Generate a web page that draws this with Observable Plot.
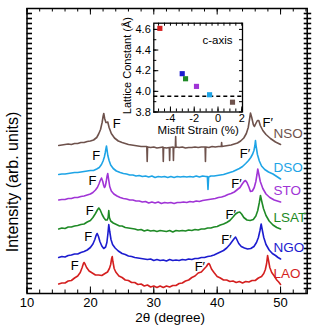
<!DOCTYPE html>
<html><head><meta charset="utf-8">
<script src="https://cdn.jsdelivr.net/npm/d3@7"></script>
<script src="https://cdn.jsdelivr.net/npm/@observablehq/plot@0.6"></script>
<style>
body{margin:0;background:#fff;}
#wrap{position:relative;width:312px;height:330px;overflow:hidden;background:#fff;}
#wrap svg{position:absolute;left:0;top:0;}
</style></head><body><div id="wrap"></div>
<script>
const FONT = "'Liberation Sans', Arial, Helvetica, sans-serif";

// samples (substrates), bottom to top
const substrates = ["LAO","NGO","LSAT","STO","DSO","NSO"];
const colors = ["#d41f1f","#1c1ccf","#1f8a26","#a034d6","#1ea4e6","#6e524c"];
const offsets = [0,26,55,83,109,138];   // vertical stacking of the scans (arb. units)

// XRD scans: 2θ (degree) and intensity (arb. units)
const ttLAO = [15,15.5,16,16.5,17,17.5,18,18.4,18.7,18.9,19.0,19.15,19.4,19.8,20.3,20.8,21.3,21.8,22.3,22.7,23.0,23.2,23.35,23.45,23.55,23.75,24.0,24.5,25,25.5,26,26.5,27,27.5,28,28.5,29,29.5,30,30.5,31,31.5,32,32.5,33,33.5,34,34.5,35,35.5,36,36.5,37,37.5,38,38.3,38.55,38.7,38.85,39.1,39.5,40,40.5,41,41.5,42,42.5,43,43.5,44,44.5,45,45.5,46,46.5,47,47.35,47.6,47.8,47.95,48.1,48.3,48.6,49,49.4,49.7,50];
const iLAO = [9.5,10.5,10.5,12.5,13,15.5,17.5,21,26,30,31,29.5,26,22.5,20.5,18.5,18.5,18,20,21.5,25,29,35,37,32,25,21.5,17.5,16,13.5,13,11,11,9,9.5,7.5,8.5,6.5,7.5,6,7.5,6,7.5,6.5,8,8,10,10.5,12.5,13.5,16,17.5,20.5,21.5,25,27,29.5,30,28.5,24.5,21,17,15.5,13.5,13.5,12,12.5,11,12,10.5,12,11.5,13,13,15.5,17,20,24,30,38,33,26,21,17.5,13.5,11.5,9];

const ttNGO = [15,15.5,16,16.5,17,17.5,18,18.5,19,19.5,20,20.4,20.7,20.9,21.07,21.25,21.5,21.8,22.1,22.4,22.6,22.75,22.9,23.05,23.25,23.5,23.9,24.4,25,25.5,26,26.5,27,27.5,28,28.5,29,29.5,30,30.5,31,31.5,32,32.5,33,33.5,34,34.5,35,35.5,36,36.5,37,37.5,38,38.5,39,39.5,40,40.5,41,41.5,42,42.4,42.7,42.9,43.1,43.4,43.8,44.3,44.8,45.3,45.8,46.2,46.5,46.75,46.94,47.1,47.35,47.7,48.2,48.7,49.2,49.6,50];
const iNGO = [10,11,10.5,12,12.5,13.5,13.5,15,16,17.5,20,23.5,28,32,34,31.5,26,21.5,19,20.5,25,33,43,36,28,23,19.5,16.5,14,13,11.5,11,10,9.5,9,8.5,8,8.5,7,8,7,7.5,6.5,8,7,7.5,7,8,7.5,8.5,8,9,9,10,10,11,11.5,12.5,14,15.5,17,19.5,23,26.5,29,30.5,28,24,21,19.5,18.5,19,21,25,30,37,43.5,38,30,23,17.5,14,12,10,8.5];

const ttLSAT = [15,15.5,16,16.5,17,17.5,18,18.5,19,19.5,20,20.4,20.8,21.1,21.32,21.55,21.85,22.15,22.4,22.65,22.8,22.9,23.0,23.2,23.6,24.1,24.6,25,25.5,26,26.5,27,27.5,28,28.5,29,29.5,30,30.5,31,31.5,32,32.5,33,33.5,34,34.5,35,35.5,36,36.5,37,37.5,38,38.5,39,39.5,40,40.5,41,41.5,42,42.5,42.9,43.25,43.56,43.85,44.2,44.7,45.2,45.7,46.1,46.4,46.65,46.83,47.0,47.3,47.7,48.2,48.8,49.4,50];
const iLSAT = [9.5,10.5,10,11.5,11.5,12.5,13,14,14.5,16.5,18,21,25,28.5,30.5,28.5,24,20.5,18.5,18.5,21,28,21,17.5,15.5,14,12.5,12.5,11,10.5,10,9.5,8.5,9,7.5,8.5,7.5,8,7,8,7.5,7,8,6.5,8,7.5,8,7.5,8.5,8,9,8.5,9.5,9.5,10.5,10.5,11.5,12,13.5,14.5,16,18,21.5,24.5,26,26.5,24.5,21,18.5,18,19,22.5,28,36,43,38,30,23,17.5,13.5,11,9.5];

const ttSTO = [15,15.5,16,16.5,17,17.5,18,18.5,19,19.5,20,20.4,20.8,21.1,21.35,21.55,21.75,21.95,22.1,22.22,22.35,22.5,22.62,22.74,22.88,23.05,23.3,23.7,24.2,24.7,25.2,25.7,26.2,26.7,27.2,27.7,28.2,28.7,29.2,29.7,30.2,30.7,31.2,31.7,32.2,32.7,33.2,33.7,34.2,34.7,35.2,35.7,36.2,36.7,37.2,37.7,38.2,38.7,39.2,39.7,40.2,40.7,41.2,41.7,42.2,42.7,43.2,43.6,43.95,44.25,44.46,44.7,45.0,45.25,45.55,45.85,46.1,46.28,46.4,46.55,46.8,47.2,47.7,48.3,49,49.5,50];
const iSTO = [10.5,11,11,12,12,13,13,14,14.5,15.5,16.5,18,20.5,23,26.5,30,32.5,29,25,23,24.5,29,34,37,31,24,19.5,16.5,14.5,13,12,11.5,10.5,10.5,9.5,9.5,8.5,9,7.5,8.5,7.5,8.5,7,8,7.5,8,7,8,8,8.5,8,9,8.5,9.5,9,10,10.5,11,11.5,12,13,13.5,14.5,16,17,18.5,21,23,26.5,29,30,28,23.5,19,19.5,23,29,36,41.5,37,29,22,16.5,13,10.5,9.5,8.5];

const ttDSO = [15,15.5,16,16.5,17,17.5,18,18.5,19,19.5,20,20.5,21,21.4,21.75,22.0,22.2,22.35,22.46,22.54,22.62,22.75,22.95,23.2,23.6,24.1,24.7,25.2,25.7,26.2,26.7,27.2,27.7,28.2,28.7,29.2,29.7,30.2,30.7,31.2,31.7,32.2,32.7,33.2,33.7,34.2,34.7,35.2,35.7,36.2,36.7,37.2,37.7,38.2,38.45,38.55,38.65,39,39.5,40,40.5,41,41.5,42,42.5,43,43.5,44,44.5,44.95,45.3,45.6,45.8,45.95,46.04,46.15,46.35,46.65,47.0,47.5,48.1,48.8,49.4,50];
const iDSO = [10,10.5,10.5,11,11.5,12,12,12.5,13,13.5,14,14,15.5,17,20,23.5,27.5,32,36,38.5,35,29,24,19.5,16,13.5,12,11,10.5,9.5,9.5,8.5,9,8,8.5,7.5,8.5,7,8,7.5,8,7,8,7,8,7.5,8,7.5,8,7.5,8.5,7.5,8.5,8,8,-5,7.5,8.5,8.5,9,9.5,10,11,12,13,14.5,16,18,21,24,27,30.5,34,39,44,38,30,23.5,18.5,15,12.5,10.5,8,5.5];

const ttNSO = [15,15.5,16,16.5,17,17.5,18,18.5,19,19.5,20,20.5,21,21.3,21.6,21.85,22.0,22.11,22.25,22.45,22.6,22.74,22.95,23.3,23.8,24.4,25,25.5,26,26.5,27,27.5,28,28.5,28.9,28.96,29.02,29.5,30,30.5,31,31.45,31.5,31.55,32,32.45,32.5,32.55,33.05,33.1,33.15,33.4,33.45,33.5,34,34.5,35,35.5,36,36.5,37,37.5,38.1,38.15,38.2,38.7,39.2,39.7,40.2,40.65,40.7,40.75,41.2,41.7,42.2,42.7,43.2,43.7,44.2,44.6,44.9,45.1,45.25,45.45,45.7,45.88,46.1,46.35,46.56,46.8,47.2,47.7,48.4,49.2,50];
const iNSO = [10,10.5,11,11.5,11,12,12,13,13,14,14.5,15.5,18,21.5,26,33,39,42,37,33,33,33.5,28,22,17.5,14.5,13,12,11,10.5,10,9.5,9,9,9,-6,8.5,8,8.5,7.5,8,8.5,-6,8,7.5,8,-5,8,8.5,-5,8,8,19,8.5,8,8.5,7.5,8,8,8.5,8,8.5,8.5,-6,8.5,8,9,8.5,9,9,13,9,9.5,10,10.5,11.5,12.5,14.5,17.5,22,28,36,42.5,38,31,29,32,35,35,30,25,21,17,13.5,11];

// film peak positions (2θ) marked F and F′
const filmF  = [18.96, 21.07, 21.32, 21.75, 22.35, 22.74];
const filmF2 = [38.68, 42.89, 43.56, 44.46, 45.8, 46.56];

// inset: c-axis lattice constant vs misfit strain
const misfit   = [-4.89, -3.01, -2.73, -1.81, -0.71, 1.22];
const latticeC = [4.61, 4.171, 4.122, 4.048, 3.967, 3.895];
const bulkC = 3.953;

const xTicks = [10,20,30,40,50];
const insetXTicks = [-4,-2,0,2];
const insetYTicks = [3.8,4.0,4.2,4.4,4.6];

// ---- build tables
const scans = [[ttLAO,iLAO],[ttNGO,iNGO],[ttLSAT,iLSAT],[ttSTO,iSTO],[ttDSO,iDSO],[ttNSO,iNSO]];
const rows = substrates.flatMap((s,i)=> scans[i][0].map((t,j)=>({sample:s, tt:t, I:scans[i][1][j]+offsets[i]})));
const valueAt = (i,t) => { const k = d3.minIndex(scans[i][0], v=>Math.abs(v-t)); return scans[i][1][k]+offsets[i]; };
const ends = substrates.map((s,i)=>{ const tt=scans[i][0], I=scans[i][1]; return {sample:s, tt:tt[tt.length-1], I:I[I.length-1]+offsets[i]}; });
const fLab = substrates.flatMap((s,i)=>[
  {sample:s, tt:filmF[i], I:valueAt(i,filmF[i]), text:"F"},
  {sample:s, tt:filmF2[i], I:valueAt(i,filmF2[i]), text:"F\u2032"}]);
const pts = substrates.map((s,i)=>({sample:s, m:misfit[i], c:latticeC[i]}));

const XMIN=10, XMAX=54.2, YMIN=0, YMAX=285;
const pxX = 280.2/(XMAX-XMIN);
const xMinor = d3.range(10, 54.3, 2);
const yMinor = d3.range(5, 285, 5);

const main = Plot.plot({
  width:312, height:330,
  marginLeft:26.5, marginRight:5.3, marginTop:8, marginBottom:37,
  x:{domain:[XMIN,XMAX], ticks:xTicks, tickSize:0, tickPadding:4, label:null},
  y:{domain:[YMIN,YMAX], axis:null},
  color:{domain:substrates, range:colors},
  style:{fontFamily:FONT, fontSize:"13px", background:"transparent", color:"black", overflow:"visible"},
  marks:[
    Plot.ruleX(xMinor, {y1:YMIN, y2:YMIN+3.5, stroke:"black"}),
    Plot.ruleX(xTicks, {y1:YMIN, y2:YMIN+6.5, stroke:"black"}),
    Plot.ruleX(xMinor, {y1:YMAX, y2:YMAX-3.5, stroke:"black"}),
    Plot.ruleX(xTicks, {y1:YMAX, y2:YMAX-6.5, stroke:"black"}),
    Plot.ruleY(yMinor, {x1:XMIN, x2:XMIN+5.5/pxX, stroke:"black", strokeWidth:1.6}),
    Plot.ruleY(yMinor, {x1:XMAX-3/pxX, x2:XMAX+4.5/pxX, stroke:"black", strokeWidth:1.6}),
    Plot.line(rows, {x:"tt", y:"I", z:"sample", stroke:"sample", strokeWidth:1.6, strokeLinejoin:"round"}),
    Plot.frame({stroke:"black", strokeWidth:1.5}),
    Plot.text(ends, {x:"tt", y:"I", text:"sample", fill:"sample", textAnchor:"start", dx:-7, dy:-11, fontSize:13.5}),
    Plot.text(fLab.filter(d=>d.sample!=="NSO"), {x:"tt", y:"I", text:"text", fill:"black", dx:-9, dy:3, fontSize:13}),
    Plot.text(fLab.filter(d=>d.sample==="NSO"), {x:"tt", y:"I", text:"text", fill:"black", dx:9, dy:2, fontSize:13}),
    Plot.text(["2\u03b8 (degree)"], {frameAnchor:"bottom", textAnchor:"middle", dx:3, dy:28.5, fontSize:13.5, fill:"black"}),
    Plot.text(["Intensity (arb. units)"], {x:()=>XMIN, y:()=>(YMIN+YMAX)/2, dx:-14.5, dy:31, rotate:-90, textAnchor:"middle", fontSize:16, fill:"black"})
  ]
});

const IXMIN=-5.4, IXMAX=2.06, IYMIN=3.8, IYMAX=4.66;
const ipx = 88.7/(IXMAX-IXMIN), ipy = 88.8/(IYMAX-IYMIN);
const ixMinor = d3.range(-5, 2.01, 0.5);
const iyMinor = d3.range(0, 9).map(k => 3.8 + k*0.1);

const inset = Plot.plot({
  width:312, height:140,
  marginLeft:153.3, marginRight:70, marginTop:22.7, marginBottom:28.5,
  x:{domain:[IXMIN,IXMAX], ticks:insetXTicks, tickSize:0, tickPadding:2.5, tickFormat:d=> d<0 ? "-"+(-d) : String(d), label:null},
  y:{domain:[IYMIN,IYMAX], ticks:insetYTicks, tickSize:0, tickPadding:3, tickFormat:d3.format(".1f"), label:null},
  color:{domain:substrates, range:colors},
  style:{fontFamily:FONT, fontSize:"11px", background:"transparent", color:"black", overflow:"visible"},
  marks:[
    Plot.frame({fill:"white", stroke:null}),
    Plot.ruleY(iyMinor, {x1:IXMIN, x2:IXMIN+3/ipx, stroke:"black"}),
    Plot.ruleY(insetYTicks, {x1:IXMIN, x2:IXMIN+5/ipx, stroke:"black"}),
    Plot.ruleY(iyMinor, {x1:IXMAX, x2:IXMAX-3/ipx, stroke:"black"}),
    Plot.ruleX(ixMinor, {y1:IYMIN, y2:IYMIN+3/ipy, stroke:"black"}),
    Plot.ruleX(insetXTicks, {y1:IYMIN, y2:IYMIN+5/ipy, stroke:"black"}),
    Plot.ruleX(ixMinor, {y1:IYMAX, y2:IYMAX-3/ipy, stroke:"black"}),
    Plot.ruleY([bulkC], {stroke:"black", strokeWidth:1.4, strokeDasharray:"4,3"}),
    Plot.dot(pts, {x:"m", y:"c", fill:"sample", symbol:"square", r:2.9, stroke:null}),
    Plot.frame({stroke:"black", strokeWidth:1.3}),
    Plot.text(["c-axis"], {frameAnchor:"top-right", dx:-10, dy:13, fontSize:11.5, fill:"black", textAnchor:"end"}),
    Plot.text(["Misfit Strain (%)"], {frameAnchor:"bottom", textAnchor:"middle", dy:21.5, fontSize:11.5, fill:"black"}),
    Plot.text(["Lattice Constant (\u00c5)"], {x:()=>IXMIN, y:()=>(IYMIN+IYMAX)/2, dx:-26, dy:-2, rotate:-90, textAnchor:"middle", fontSize:11, fill:"black"})
  ]
});

const wrap = document.getElementById("wrap");
wrap.appendChild(main);
wrap.appendChild(inset);
</script></body></html>
